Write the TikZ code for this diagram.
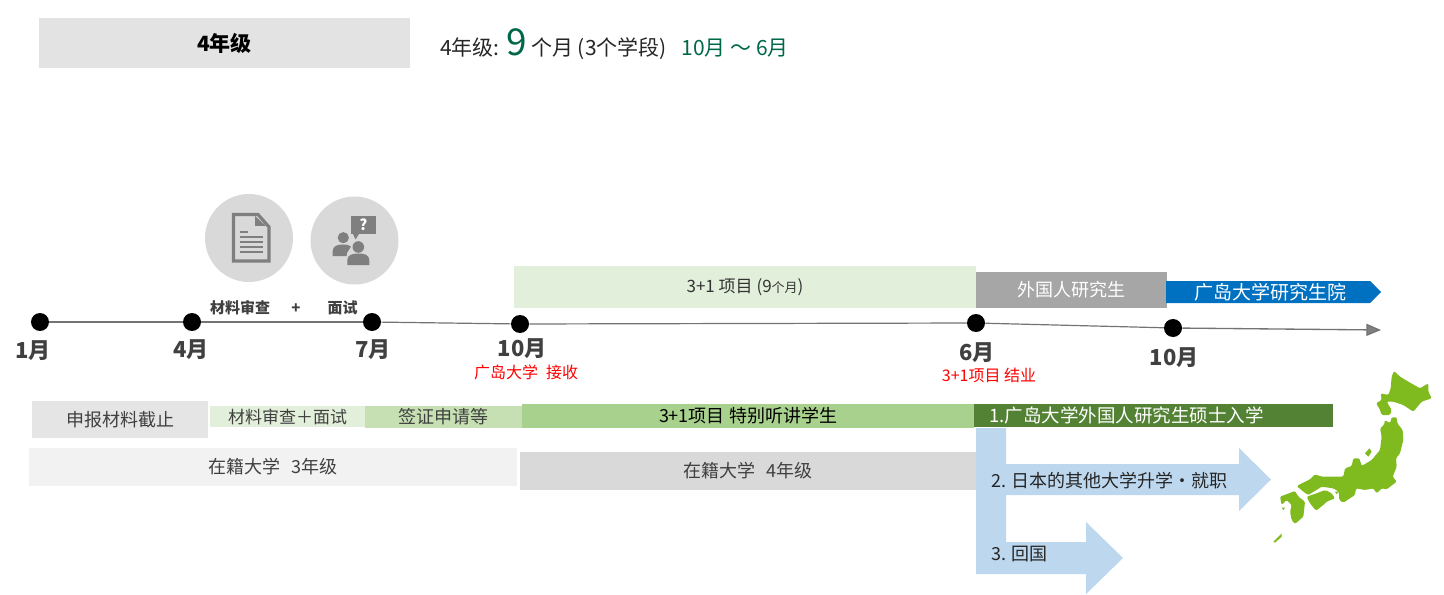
\documentclass[tikz,border=0pt]{standalone}
\usepackage{fontspec}
\setmainfont{Noto Sans CJK SC}
\usetikzlibrary{arrows.meta}
\newcommand\fs[1]{\fontsize{\fpeval{#1*0.75}}{\fpeval{#1*0.9}}\selectfont}
\definecolor{dk}{HTML}{404040}
\definecolor{tg}{HTML}{00674A}
\definecolor{lgreen}{HTML}{E2EFDA}
\definecolor{mgreen}{HTML}{C6E0B4}
\definecolor{sgreen}{HTML}{A9D18E}
\definecolor{dgreen}{HTML}{548235}
\definecolor{skyb}{HTML}{BDD7EE}
\definecolor{iconbg}{HTML}{D9D9D9}
\definecolor{icon}{HTML}{7F7F7F}
\definecolor{jp}{HTML}{7FBA1E}
\tikzset{
  px/.style={x=0.75pt,y=-0.75pt},
  band/.style n args={3}{inner sep=0pt,minimum width=#1*0.75pt,minimum height=#2*0.75pt,fill=#3},
  dot/.style={circle,fill=black,inner sep=0pt,minimum size=18*0.75pt},
  mlabel/.style={inner sep=0pt,text=dk,font=\fs{22}\bfseries},
  redlabel/.style={inner sep=0pt,text=red,font=\fs{16}},
  bartext/.style={inner sep=0pt,text=dk,font=\fs{18}},
  arrowtext/.style={inner sep=0pt,anchor=west,text=black!85,font=\fs{18}},
  iconcirc/.style={circle,fill=iconbg,inner sep=0pt,minimum size=88*0.75pt},
  axis/.style={draw=black!55,line width=1pt,-{Triangle[length=11pt,width=9pt,fill=black!50]}},
}
\begin{document}
\begin{tikzpicture}[px]
\useasboundingbox (0,0) rectangle (1444,595);
% header
\node[band={371}{50}{black!11},font=\fs{21}\bfseries,text=black] (hdr) at (224.5,43) {4年级};
\node[anchor=base west,inner sep=0pt,text=black!85,font=\fs{21}] (sum) at (440,56)
  {4年级: {\fs{37}\color{tg}9} 个月 (3个学段)\hspace{11pt}{\color{tg}10月 ～ 6月}};
% icons
\node[iconcirc] (ic1) at (249,238) {};
\node[iconcirc] (ic2) at (354.5,240.5) {};
\draw[icon,line width=2.4pt,line join=miter] (233.5,214.5) -- (258,214.5) -- (269,227) -- (269,261) -- (233.5,261) -- cycle;
\fill[icon] (255,216) -- (255,226) -- (266,226) -- cycle;
\fill[icon] (240,230.7) rectangle (248,232.7);
\foreach \yy in {236,241,246,251} \fill[icon] (240,\yy) rectangle (262.7,\yy+2);
\fill[icon] (350.7,216) rectangle (376,234.3);
\fill[icon] (353,234) -- (359,234) -- (355.5,239.5) -- cycle;
\node[inner sep=0pt,text=white,font=\fs{15}\bfseries] (q) at (363.3,225) {?};
\fill[icon] (343.3,237.7) circle (5.6);
\fill[icon] (332.7,256) -- (332.7,251) .. controls (333,246) and (337,244.5) .. (343,244.5) .. controls (347,244.5) and (349,245) .. (351,246.5) -- (347,253) -- (346.5,256) -- cycle;
\fill[icon] (358.3,247) circle (5.8);
\fill[icon] (347.3,265) -- (347.3,260) .. controls (347.5,255) and (352,253.5) .. (358.3,253.5) .. controls (365,253.5) and (369,255) .. (369.3,260) -- (369.3,265) -- cycle;
\node[inner sep=0pt,text=dk,font=\fs{15}\bfseries] (t1) at (240,308) {材料审查};
\node[inner sep=0pt,text=dk,font=\fs{15}\bfseries] (t2) at (296,309) {+};
\node[inner sep=0pt,text=dk,font=\fs{15}\bfseries] (t3) at (342.5,308) {面试};
% upper bands
\node[band={462}{42}{lgreen},text=black!80,font=\fs{17}] (p31) at (745,287)
  {3+1 项目 (9{\fs{13}个月})};
\node[band={191}{36}{black!35},text=white,font=\fs{18}] (gaik) at (1071.5,290) {外国人研究生};
\fill[blue!0!black,fill=white,opacity=0] (0,0) circle (0);
\fill[fill={rgb,255:red,0;green,112;blue,192}] (1166,281) -- (1370,281) -- (1381,292) -- (1370,303) -- (1166,303) -- cycle;
\node[inner sep=0pt,text=white,font=\fs{19}] (grad) at (1270,292) {广岛大学研究生院};
% timeline
\node[dot] (d1) at (40,322) {};
\node[dot] (d2) at (192,322) {};
\node[dot] (d3) at (372,322) {};
\node[dot] (d4) at (520,324) {};
\node[dot] (d5) at (976,323) {};
\node[dot] (d6) at (1173,328) {};
\coordinate (tend) at (1381,330);
\begin{scope}[on background layer/.try]
\end{scope}
\draw[draw=black!55,line width=0.9pt] (d1) -- (d2);
\draw[draw=black!55,line width=0.9pt] (d2) -- (d3);
\draw[draw=black!55,line width=0.9pt] (d3) -- (d4);
\draw[draw=black!55,line width=0.9pt] (d4) -- (d5);
\draw[draw=black!55,line width=0.9pt] (d5) -- (d6);
\draw[axis] (d6) -- (tend);
\node[mlabel] (m1) at (33,351) {1月};
\node[mlabel] (m2) at (191,350) {4月};
\node[mlabel] (m3) at (373,350) {7月};
\node[mlabel] (m4) at (522,349) {10月};
\node[mlabel] (m5) at (977,353) {6月};
\node[mlabel] (m6) at (1174,358) {10月};
\node[redlabel] (r1) at (526,372) {广岛大学\hspace{6pt}接收};
\node[redlabel] (r2) at (989,375) {3+1项目 结业};
% arrows
\fill[skyb] (976,428) -- (1006,428) -- (1006,464) -- (1239,464) -- (1239,448) -- (1271,479.5) -- (1239,511) -- (1239,495) -- (1006,495) -- (1006,542) -- (1086,542) -- (1086,522) -- (1123,558) -- (1086,594) -- (1086,574) -- (976,574) -- cycle;
% lower bands
\node[band={176}{37}{black!10},bartext] (b1) at (120,419.5) {申报材料截止};
\node[band={155}{21}{lgreen},bartext,font=\fs{17}] (b2) at (287.5,416.5) {材料审查＋面试};
\node[band={157}{22}{mgreen},bartext] (b3) at (443.5,417) {签证申请等};
\node[band={452}{24}{sgreen},bartext,text=black] (b4) at (748,416) {3+1项目 特别听讲学生};
\node[band={359}{23}{dgreen}] (b5) at (1153.5,415.5) {};
\node[inner sep=0pt,anchor=west,text=white,font=\fs{18.5}] (b5t) at (989,415.5) {1.广岛大学外国人研究生硕士入学};
\node[band={488}{38}{black!5},bartext] (c1) at (273,467) {在籍大学\hspace{8pt}3年级};
\node[band={456}{38}{iconbg},bartext] (c2) at (748,471) {在籍大学\hspace{8pt}4年级};
\node[arrowtext] (a2) at (991,481) {2. 日本的其他大学升学·就职};
\node[arrowtext] (a3) at (991,554) {3. 回国};
% Japan
\begin{scope}[shift={(1240,360)},x=0.25pt,y=-0.25pt]
\fill[jp,rounded corners=1pt] (462,33) -- (480,50) -- (510,68) -- (540,85) -- (565,70) -- (565,95) -- (575,115) -- (545,125) -- (520,155) -- (490,135) -- (460,125) -- (440,125) -- (455,150) -- (450,165) -- (425,165) -- (418,145) -- (408,130) -- (425,120) -- (422,100) -- (445,105) -- (452,85) -- (455,50) -- cycle;
\fill[jp,rounded corners=1pt] (435,180) -- (450,190) -- (455,172) -- (470,172) -- (472,190) -- (488,210) -- (490,240) -- (480,280) -- (468,295) -- (470,320) -- (458,350) -- (470,365) -- (440,388) -- (425,385) -- (410,400) -- (400,385) -- (375,390) -- (348,385) -- (345,405) -- (310,428) -- (298,420) -- (296,395) -- (280,385) -- (245,380) -- (205,405) -- (190,395) -- (170,378) -- (210,358) -- (225,343) -- (245,350) -- (310,350) -- (315,325) -- (335,318) -- (340,295) -- (358,295) -- (365,318) -- (395,300) -- (420,270) -- (425,230) -- (420,205) -- (432,195) -- cycle;
\fill[jp] (375,280) -- (388,265) -- (395,275) -- (385,290) -- cycle;
\fill[jp,rounded corners=1pt] (200,410) -- (230,400) -- (255,390) -- (275,400) -- (285,415) -- (260,425) -- (250,435) -- (228,452) -- (210,430) -- cycle;
\fill[jp] (285,395) -- (295,395) -- (290,403) -- cycle;
\fill[jp,rounded corners=1pt] (120,410) -- (165,393) -- (175,410) -- (195,425) -- (190,470) -- (165,492) -- (155,480) -- (150,455) -- (155,435) -- (140,420) -- (125,435) -- cycle;
\fill[jp] (125,443) -- (135,443) -- (130,450) -- cycle;
\fill[jp] (100,545) -- (125,520) -- (125,530) -- (105,548) -- cycle;
\end{scope}
\end{tikzpicture}
\end{document}
